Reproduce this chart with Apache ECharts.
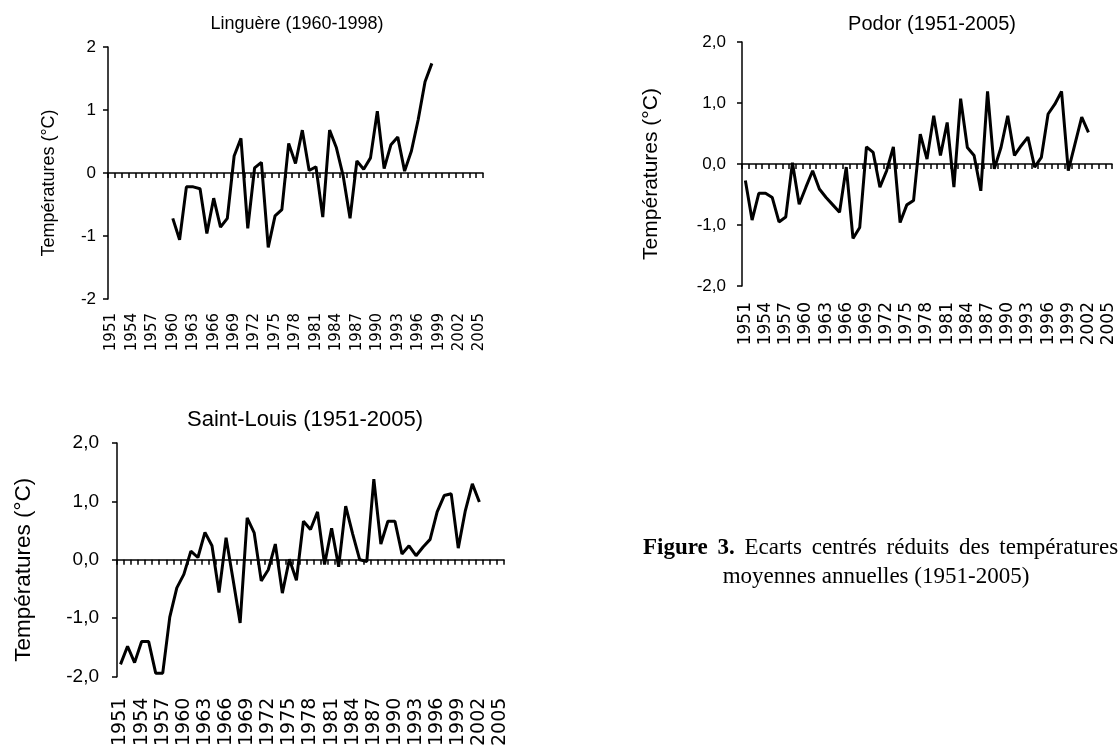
<!DOCTYPE html>
<html>
<head>
<meta charset="utf-8">
<title>Ecarts centrés réduits des températures</title>
<script src="https://cdn.jsdelivr.net/npm/echarts@6.0.0/dist/echarts.min.js"></script>
<style>
  html, body { margin: 0; padding: 0; background: #fff; }
  #chart { width: 1119px; height: 749px; }
</style>
</head>
<body>
<div id="chart"></div>
<script>
var years = ['1951', '1952', '1953', '1954', '1955', '1956', '1957', '1958', '1959', '1960',
    '1961', '1962', '1963', '1964', '1965', '1966', '1967', '1968', '1969', '1970',
    '1971', '1972', '1973', '1974', '1975', '1976', '1977', '1978', '1979', '1980',
    '1981', '1982', '1983', '1984', '1985', '1986', '1987', '1988', '1989', '1990',
    '1991', '1992', '1993', '1994', '1995', '1996', '1997', '1998', '1999', '2000',
    '2001', '2002', '2003', '2004', '2005'];

// Linguère, 1960 -> 1998
var lingStart = 1960;
var lingValues = [-0.72, -1.06, -0.22, -0.22, -0.25, -0.96, -0.40, -0.86, -0.72, 0.27,
    0.55, -0.88, 0.08, 0.17, -1.18, -0.68, -0.58, 0.47, 0.15, 0.68,
    0.04, 0.10, -0.70, 0.68, 0.40, -0.05, -0.72, 0.19, 0.06, 0.24,
    0.98, 0.07, 0.45, 0.57, 0.03, 0.35, 0.85, 1.45, 1.74];

// Podor, 1951 -> 2002
var podorStart = 1951;
var podorValues = [-0.27, -0.92, -0.48, -0.48, -0.55, -0.95, -0.87, 0.02, -0.66, -0.38,
    -0.11, -0.41, -0.55, -0.67, -0.79, -0.05, -1.22, -1.04, 0.28, 0.19,
    -0.38, -0.11, 0.28, -0.96, -0.67, -0.60, 0.49, 0.08, 0.79, 0.14,
    0.68, -0.38, 1.07, 0.27, 0.14, -0.44, 1.19, -0.08, 0.27, 0.79,
    0.14, 0.30, 0.44, -0.05, 0.11, 0.82, 0.98, 1.19, -0.11, 0.33,
    0.77, 0.52];

// Saint-Louis, 1951 -> 2002
var slStart = 1951;
var slValues = [-1.79, -1.48, -1.76, -1.40, -1.40, -1.94, -1.94, -0.98, -0.48, -0.25,
    0.15, 0.04, 0.47, 0.24, -0.56, 0.38, -0.34, -1.08, 0.72, 0.46,
    -0.36, -0.17, 0.27, -0.57, 0.01, -0.35, 0.66, 0.52, 0.82, -0.08,
    0.54, -0.12, 0.92, 0.44, 0.00, -0.03, 1.38, 0.27, 0.66, 0.66,
    0.10, 0.24, 0.07, 0.22, 0.35, 0.82, 1.10, 1.13, 0.20, 0.84,
    1.30, 0.99];

var titles = ['Linguère (1960-1998)', 'Podor (1951-2005)', 'Saint-Louis (1951-2005)'];
var yName = 'Températures (°C)';
var captionBold = ['Figure', '3.'];
var captionWords = ['Ecarts', 'centrés', 'réduits', 'des', 'températures'];
var captionLine2 = 'moyennes annuelles (1951-2005)';

var sans = '"Liberation Sans", Arial, sans-serif';
var serif = '"Liberation Serif", "Times New Roman", serif';

// put each series on the full 1951-2005 category axis
function onYears(start, values) {
    return years.map(function (y) {
        var i = +y - start;
        return (i >= 0 && i < values.length) ? values[i] : null;
    });
}

function fmtInt(v) { return String(v); }
function fmtComma(v) { return v.toFixed(1).replace('.', ','); }

// one axis for the zero line + ticks, one for the labels at the bottom
function zeroAxis(gi) {
    return {
        type: 'category', gridIndex: gi, data: years, position: 'bottom',
        axisLine: { onZero: true, lineStyle: { color: '#000', width: 1.5 } },
        axisTick: { show: true, interval: 0, length: 5, lineStyle: { color: '#000', width: 1.5 } },
        axisLabel: { show: false },
        splitLine: { show: false }
    };
}
function labelAxis(gi, size, margin) {
    return {
        type: 'category', gridIndex: gi, data: years, position: 'bottom',
        axisLine: { show: false, onZero: false },
        axisTick: { show: false },
        axisLabel: {
            interval: 2, rotate: 90, margin: margin, color: '#000',
            fontSize: size, fontFamily: '"DejaVu Sans", sans-serif'
        },
        splitLine: { show: false }
    };
}
function valueAxis(gi, fmt, labelSize, labelMargin, nameSize, nameGap) {
    return {
        type: 'value', gridIndex: gi, min: -2, max: 2, interval: 1,
        name: yName, nameLocation: 'middle', nameGap: nameGap,
        nameTextStyle: { color: '#000', fontSize: nameSize, fontFamily: sans, padding: [0, 20, 0, 0] },
        axisLine: { show: true, onZero: false, lineStyle: { color: '#000', width: 1.5 } },
        axisTick: { show: true, length: 5, lineStyle: { color: '#000', width: 1.5 } },
        axisLabel: { formatter: fmt, color: '#000', fontSize: labelSize, margin: labelMargin, fontFamily: sans },
        splitLine: { show: false }
    };
}
function lineSeries(xi, yi, data) {
    return {
        type: 'line', xAxisIndex: xi, yAxisIndex: yi, data: data,
        symbol: 'none', connectNulls: false,
        lineStyle: { color: '#000', width: 3 },
        itemStyle: { color: '#000' }
    };
}
function titleText(label, x, y, size) {
    return {
        type: 'text', x: x, y: y,
        style: { text: label, fill: '#000', font: size + 'px ' + sans, textAlign: 'center', textVerticalAlign: 'middle' }
    };
}

// first caption line is justified in the source: slightly wider word gaps
var gap = 4;
var capText = captionBold.map(function (w) { return '{b|' + w + '}'; }).join('{s| }') + '{s| }' +
    captionWords.map(function (w) { return '{n|' + w + '}'; }).join('{s| }');

var option = {
    backgroundColor: '#fff',
    animation: false,
    grid: [
        { left: 108, top: 47, width: 375, height: 252 },
        { left: 742, top: 42, width: 370, height: 244 },
        { left: 117, top: 443, width: 387, height: 238 }
    ],
    xAxis: [
        zeroAxis(0), labelAxis(0, 15, 14),
        zeroAxis(1), labelAxis(1, 17, 16),
        zeroAxis(2), labelAxis(2, 19, 21)
    ],
    yAxis: [
        valueAxis(0, fmtInt, 17, 12, 18, 50),
        valueAxis(1, fmtComma, 17, 16, 21, 80),
        valueAxis(2, fmtComma, 19, 18, 22.5, 82)
    ],
    series: [
        lineSeries(0, 0, onYears(lingStart, lingValues)),
        lineSeries(2, 1, onYears(podorStart, podorValues)),
        lineSeries(4, 2, onYears(slStart, slValues))
    ],
    graphic: [
        titleText(titles[0], 297, 24, 18),
        titleText(titles[1], 932, 24, 20),
        titleText(titles[2], 305, 420, 22),
        {
            type: 'text', x: 643, y: 548,
            style: {
                text: capText,
                textAlign: 'left', textVerticalAlign: 'middle', fill: '#000',
                font: '23px ' + serif,
                rich: {
                    b: { fontWeight: 'bold', fontSize: 23, fontFamily: serif, fill: '#000' },
                    n: { fontSize: 23, fontFamily: serif, fill: '#000' },
                    s: { fontSize: 23, fontFamily: serif, fill: '#000', padding: [0, gap, 0, 0] }
                }
            }
        },
        {
            type: 'text', x: 876, y: 577,
            style: { text: captionLine2, fill: '#000', font: '23px ' + serif, textAlign: 'center', textVerticalAlign: 'middle' }
        }
    ]
};

var myChart = echarts.init(document.getElementById('chart'));
myChart.setOption(option);
</script>
</body>
</html>
